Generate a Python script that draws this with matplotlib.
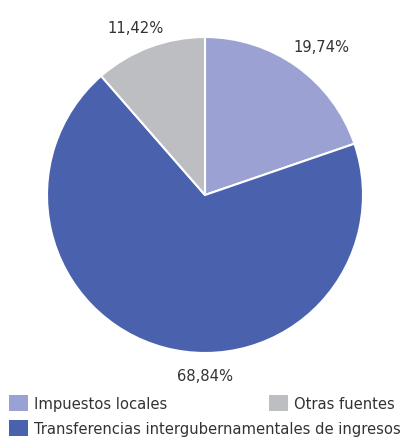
import matplotlib.pyplot as plt
from matplotlib.patches import Patch

# Data
labels = ['Impuestos locales', 'Transferencias intergubernamentales de ingresos', 'Otras fuentes']
shares = [19.74, 68.84, 11.42]
colors = ['#9BA2D3', '#4A62AE', '#BDBEC2']
pct_text = ['19,74%', '68,84%', '11,42%']

plt.rcParams['font.family'] = ['DejaVu Sans']
plt.rcParams['font.stretch'] = 'condensed'

W, H = 405, 439
fig = plt.figure(figsize=(W / 100, H / 100), dpi=100)
ax = fig.add_axes([0, 0, 1, 1])

# pie radius in pixels and center position
s = 158.0
cx, cy = 205, H - 196

wedges, _ = ax.pie(shares, colors=colors, startangle=90, counterclock=False,
                   radius=1, center=(0, 0),
                   wedgeprops=dict(edgecolor='white', linewidth=1.5))
ax.set_xlim(-cx / s, (W - cx) / s)
ax.set_ylim(-cy / s, (H - cy) / s)
ax.set_aspect('auto')
ax.axis('off')

# percentage labels (positions in pie units)
label_pos = [(0.74, 0.94), (0.0, -1.14), (-0.44, 1.06)]
for (x, y), t in zip(label_pos, pct_text):
    ax.text(x, y, t, ha='center', va='center', fontsize=11.8, color='#333333')

# legend, laid out as flowing rows
def add_item(i, x, y):
    fig.legend(handles=[Patch(facecolor=colors[i], edgecolor='none')],
               labels=[labels[i]], loc='center left',
               bbox_to_anchor=(x / W, 1 - y / H), frameon=False,
               fontsize=11.8, handlelength=1.15, handleheight=1.2,
               handletextpad=0.4, borderpad=0, borderaxespad=0,
               labelcolor='#333333')

add_item(0, 9, 404)
add_item(2, 269, 404)
add_item(1, 9, 429)

fig.savefig('out.png', dpi=100)
